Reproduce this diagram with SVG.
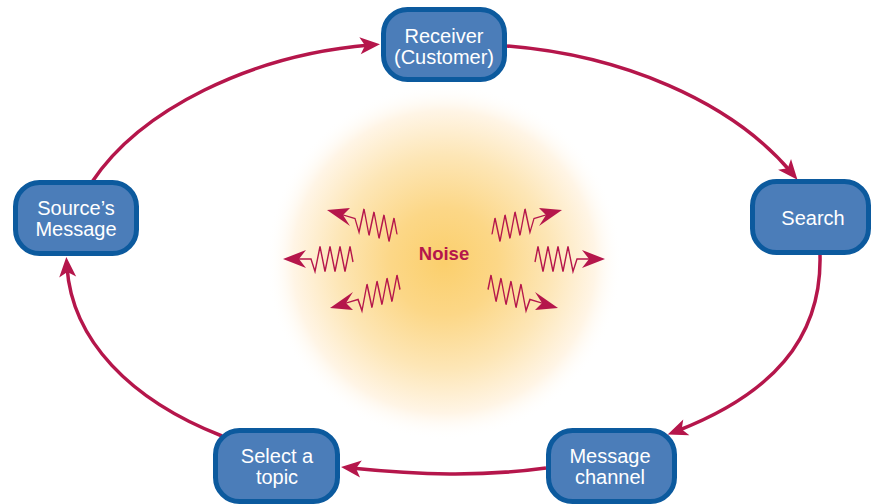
<svg xmlns="http://www.w3.org/2000/svg" xmlns:xlink="http://www.w3.org/1999/xlink" width="871" height="504" viewBox="0 0 871 504">
  <style>
    .node rect { fill: #4b7db9; stroke: #0c5a9e; stroke-width: 5; }
    .node text { fill: #ffffff; font-family: "Liberation Sans", Arial, sans-serif; font-size: 20px; text-anchor: middle; }
    .link { fill: none; stroke: #b5164b; stroke-width: 3.5; marker-end: url(#head); }
    .zig { fill: none; stroke: #b5164b; stroke-width: 1.4; stroke-linejoin: miter; }
    .zighead { fill: #b5164b; }
    .noise { fill: #b5164b; font-family: "Liberation Sans", Arial, sans-serif; font-size: 18.5px; font-weight: bold; text-anchor: middle; }
  </style>
  <defs>
    <radialGradient id="glow" cx="444" cy="262" r="178" gradientUnits="userSpaceOnUse">
      <stop offset="0" stop-color="#fbcf6c"/>
      <stop offset="0.3" stop-color="#fcd787"/>
      <stop offset="0.6" stop-color="#fde6b6"/>
      <stop offset="0.85" stop-color="#fff5e6"/>
      <stop offset="1" stop-color="#ffffff" stop-opacity="0"/>
    </radialGradient>
    <marker id="head" viewBox="-20 -10 32 20" refX="0" refY="0" markerWidth="32" markerHeight="20" markerUnits="userSpaceOnUse" orient="auto">
      <path d="M10,0 L-10,-8.5 L-5,0 L-10,8.5 Z" fill="#b5164b"/>
    </marker>
    <!-- zigzag noise arrow, pointing along +x with its tip at the origin -->
    <g id="zigzag">
      <path class="zig" d="M-70,3 L-67,-12.5 L-62,12.5 L-57,-12.5 L-52,12.5 L-47,-12.5 L-42,12.5 L-37,-12.5 L-32,12.5 L-28,0 L-15,0"/>
      <path class="zighead" d="M0,0 L-23,-9 L-16,0 L-23,9 Z"/>
    </g>
  </defs>

  <rect width="871" height="504" fill="#ffffff"/>

  <!-- warm glow behind the noise -->
  <circle cx="444" cy="262" r="178" fill="url(#glow)"/>

  <!-- noise arrows: the slanted ones are sheared so their teeth stay upright -->
  <g id="noise">
    <use xlink:href="#zigzag" transform="translate(562,210) skewY(-17)"/>
    <use xlink:href="#zigzag" transform="translate(605,259)"/>
    <use xlink:href="#zigzag" transform="translate(558,308) skewY(17)"/>
    <use xlink:href="#zigzag" transform="translate(327,210) scale(-1,1) skewY(-17)"/>
    <use xlink:href="#zigzag" transform="translate(283,259) scale(-1,1)"/>
    <use xlink:href="#zigzag" transform="translate(330,308) scale(-1,1) skewY(17)"/>
    <text class="noise" x="444" y="260">Noise</text>
  </g>

  <!-- connectors around the cycle -->
  <g id="connectors">
    <path class="link" d="M92,182 C140,110 250,55 370,45"/>
    <path class="link" d="M507,46 C620,55 730,100 791,172"/>
    <path class="link" d="M820,255 C822,340 770,395 677,431"/>
    <path class="link" d="M546,468 C480,477 420,475 351,468"/>
    <path class="link" d="M222,436 C130,400 72,340 67,267"/>
  </g>

  <g id="receiver" class="node">
    <rect x="383.5" y="9.5" width="121" height="70" rx="24"/>
    <text x="444" y="43">Receiver</text>
    <text x="444" y="64">(Customer)</text>
  </g>

  <g id="search" class="node">
    <rect x="752.5" y="181.5" width="116" height="71" rx="24"/>
    <text x="813" y="225">Search</text>
  </g>

  <g id="message-channel" class="node">
    <rect x="548.5" y="430.5" width="126" height="71" rx="24"/>
    <text x="610" y="463">Message</text>
    <text x="610" y="484">channel</text>
  </g>

  <g id="select-topic" class="node">
    <rect x="215.5" y="430.5" width="122" height="71" rx="24"/>
    <text x="277" y="463">Select a</text>
    <text x="277" y="484">topic</text>
  </g>

  <g id="source-message" class="node">
    <rect x="15.5" y="182.5" width="121" height="71" rx="24"/>
    <text x="76" y="215">Source’s</text>
    <text x="76" y="236">Message</text>
  </g>
</svg>
